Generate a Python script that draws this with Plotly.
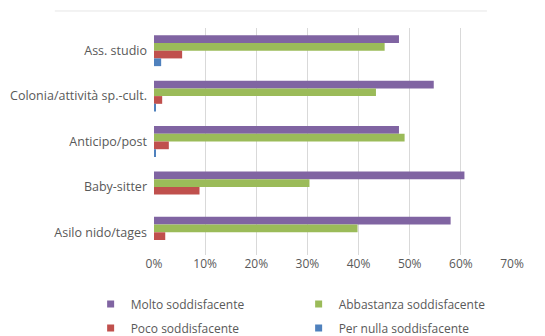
import plotly.graph_objects as go

categories = ["Ass. studio", "Colonia/attività sp.-cult.", "Anticipo/post", "Baby-sitter", "Asilo nido/tages"]
molto = [0.479, 0.547, 0.479, 0.607, 0.580]
abbastanza = [0.451, 0.434, 0.490, 0.304, 0.398]
poco = [0.055, 0.016, 0.029, 0.089, 0.022]
per_nulla = [0.014, 0.002, 0.002, 0.0, 0.0]

series = [
    ("Molto soddisfacente", molto, "#8064A2", "legend"),
    ("Abbastanza soddisfacente", abbastanza, "#9BBB59", "legend"),
    ("Poco soddisfacente", poco, "#C0504D", "legend2"),
    ("Per nulla soddisfacente", per_nulla, "#4F81BD", "legend2"),
]

fig = go.Figure()
for name, vals, color, leg in series:
    fig.add_trace(go.Bar(
        y=categories, x=vals, name=name, orientation="h",
        marker=dict(color=color, line=dict(width=0)),
        showlegend=False,
    ))
    # legend-only entry with a small square swatch
    fig.add_trace(go.Scatter(
        x=[None], y=[None], mode="markers", name=name,
        marker=dict(symbol="square", size=7, color=color),
        legend=leg, showlegend=True,
    ))

fnt = "Open Sans, Liberation Sans, sans-serif"
legend_common = dict(
    orientation="h", xanchor="left", yanchor="middle",
    x=-0.177, entrywidth=163, entrywidthmode="pixels",
    font=dict(family=fnt, size=12, color="#595959"),
    itemwidth=30, bgcolor="rgba(0,0,0,0)",
)

# the page body adds an 8px offset, so margins are set relative to that
fig.update_layout(
    width=545, height=336,
    margin=dict(l=146, r=41, t=20, b=89, autoexpand=False),
    paper_bgcolor="white", plot_bgcolor="white",
    font=dict(family=fnt, size=12, color="#595959"),
    barmode="group", bargap=0.32, bargroupgap=0,
    legend=dict(legend_common, y=-0.216),
    legend2=dict(legend_common, y=-0.322),
    xaxis=dict(
        range=[0, 0.7], dtick=0.1, tickformat=".0%",
        showgrid=True, gridcolor="#D9D9D9", gridwidth=1,
        zeroline=False, showline=False, ticks="",
        tickfont=dict(size=12, color="#595959"),
    ),
    yaxis=dict(
        autorange="reversed", showgrid=False, zeroline=False,
        showline=False, ticks="", ticklabelstandoff=6,
        tickfont=dict(size=12.5, color="#595959"),
    ),
    shapes=[dict(
        type="line", xref="paper", yref="paper",
        x0=-0.277, x1=0.93, y0=1.075, y1=1.075,
        line=dict(color="#E6E6E6", width=1),
    )],
)

fig.write_html("out.html")
